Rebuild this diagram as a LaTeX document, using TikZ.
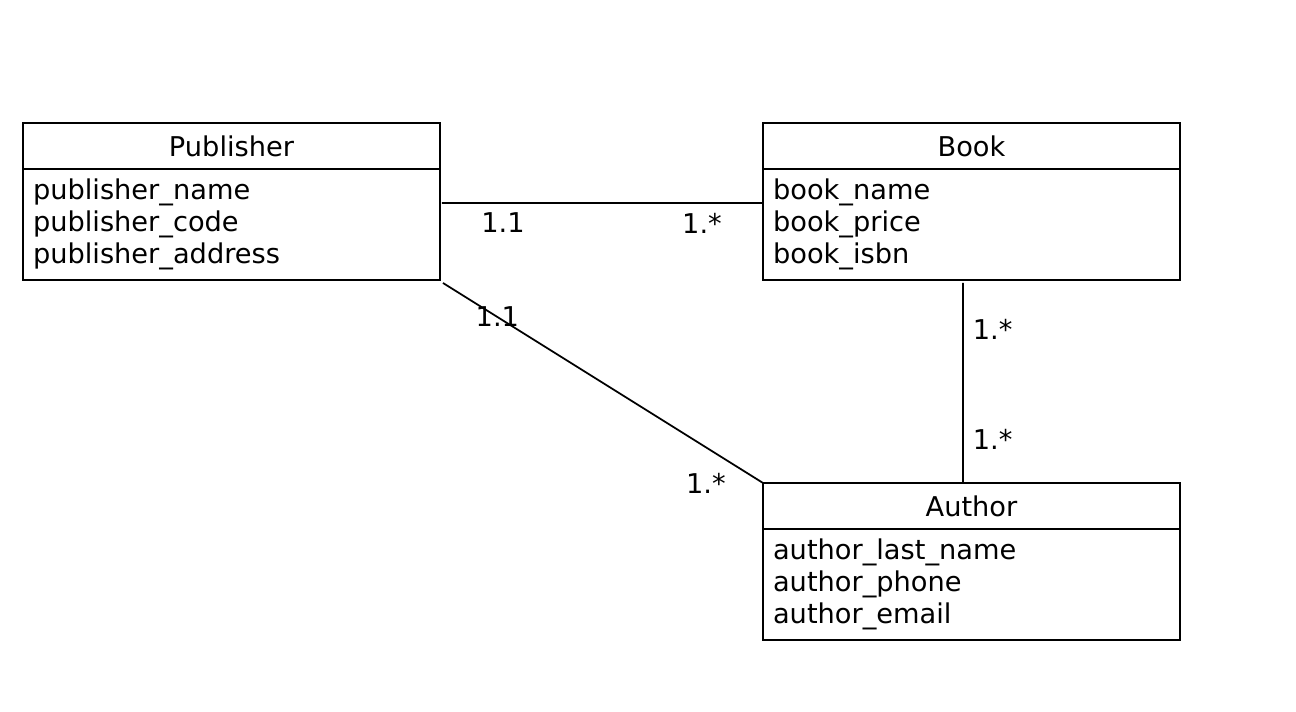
\documentclass[tikz,border=0pt]{standalone}
\usepackage{fontspec}
\setmainfont{DejaVu Sans}
\usetikzlibrary{positioning}
\tikzset{
	classhead/.style={draw, line width=1pt, outer sep=0pt, minimum width=8.34cm, minimum height=0.92cm, inner sep=0pt},
	classbody/.style={draw, line width=1pt, outer sep=0pt, minimum width=8.34cm, minimum height=2.22cm,
			text width=7.94cm, inner xsep=0.2cm, align=left},
	assoc/.style={line width=1pt},
	mult/.style={inner sep=0.18cm}
}
\begin{document}
\begin{tikzpicture}[x=0.02cm,y=-0.02cm,font=\fontsize{15.5}{18.2}\selectfont]
			      \useasboundingbox (0,0) rectangle (1296,712);

			      % classes
			      \node[classhead] (pub) at (231.5,146) {Publisher};
			      \node[classbody,below=0pt of pub] (pubattr) {publisher\_name\\publisher\_code\\publisher\_address};

			      \node[classhead] (book) at (971.5,146) {Book};
			      \node[classbody,below=0pt of book] (bookattr) {book\_name\\book\_price\\book\_isbn};

			      \node[classhead] (auth) at (971.5,506) {Author};
			      \node[classbody,below=0pt of auth] (authattr) {author\_last\_name\\author\_phone\\author\_email};

			      % associations with multiplicities
			      \draw[assoc] ([shift={(2,-21.5)}]pubattr.east) -- ([yshift=0.43cm]bookattr.west)
			            node[mult,pos=0.19,below] {1.1}
			            node[mult,pos=0.81,below] {1.*};
			      \draw[assoc] ([shift={(3,3)}]pubattr.south east) -- (auth.north west)
			            node[pos=0.17,inner sep=0pt] {1.1}
			            node[mult,at end,left=0.55cm] {1.*};
			      \draw[assoc] ([shift={(-8.5,3)}]bookattr.south) -- ([xshift=-0.17cm]auth.north)
			            node[mult,pos=0.23,right] {1.*}
			            node[mult,pos=0.78,right] {1.*};
		      \end{tikzpicture}
\end{document}
